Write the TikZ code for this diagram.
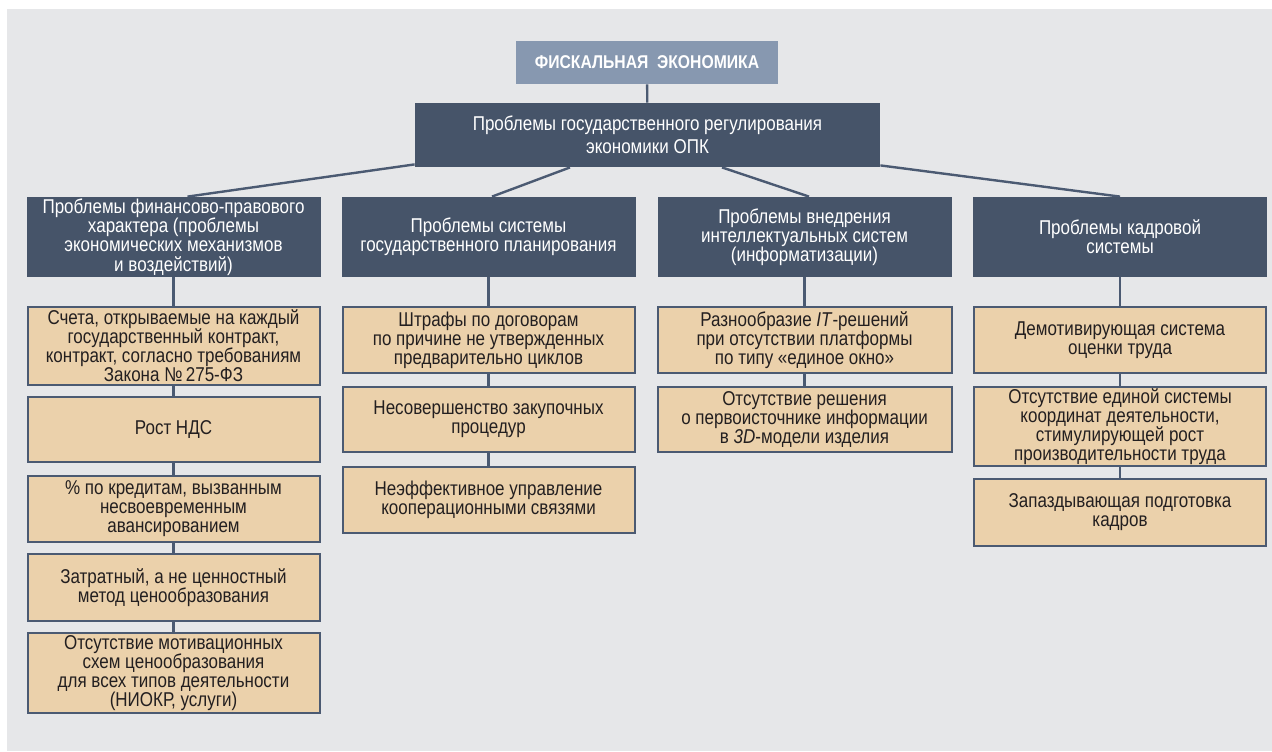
\documentclass[tikz,border=0pt]{standalone}
\usepackage{fontspec}
\setmainfont{Liberation Sans}[FakeStretch=0.85]
\usetikzlibrary{calc,backgrounds}
\definecolor{bgc}{HTML}{E6E7E9}
\definecolor{topc}{HTML}{8798B0}
\definecolor{darkc}{HTML}{465469}
\definecolor{tanc}{HTML}{EBD1AB}
\definecolor{borderc}{HTML}{4B5A72}
\definecolor{txtc}{HTML}{231F20}
\tikzset{
  topbox/.style={fill=topc, text=white, inner sep=0pt, minimum width=131pt, minimum height=21.5pt,
    font=\bfseries\fontsize{9.25pt}{10pt}\selectfont},
  mainbox/.style={fill=darkc, text=white, inner sep=0pt, minimum width=232.5pt, minimum height=32pt,
    align=center, font=\fontsize{10pt}{11.5pt}\selectfont},
  headbox/.style={fill=darkc, text=white, inner sep=0pt, minimum width=147pt, minimum height=40pt,
    align=center, font=\fontsize{10pt}{9.6pt}\selectfont},
  itembox/.style={fill=tanc, draw=borderc, line width=1pt, text=txtc, inner sep=0pt,
    minimum width=146pt, align=center, font=\fontsize{10pt}{9.5pt}\selectfont},
  conn/.style={draw=borderc, line width=1.2pt}
}
\begin{document}
\begin{tikzpicture}[x=0.5pt,y=-0.5pt]
\useasboundingbox (0,0) rectangle (1272,751);

\node[topbox] (top) at (647,62.5) {ФИСКАЛЬНАЯ\ \ ЭКОНОМИКА};
\node[mainbox] (L) at (647.5,135) {Проблемы государственного регулирования\\экономики ОПК};

\node[headbox] (h1) at (173.5,237) {\raisebox{0pt}{}Проблемы финансово-правового\\характера (проблемы\\экономических механизмов\\и воздействий)};
\node[headbox] (h2) at (488.5,237) {Проблемы системы\\государственного планирования};
\node[headbox] (h3) at (804.5,237) {Проблемы внедрения\\интеллектуальных систем\\(информатизации)};
\node[headbox] (h4) at (1120,237) {Проблемы кадровой\\системы};

% column 1
\node[itembox, minimum height=39pt] (a1) at (173.5,346) {Счета, открываемые на каждый\\государственный контракт,\\контракт, согласно требованиям\\Закона №\,275-ФЗ};
\node[itembox, minimum height=32.5pt] (a2) at (173.5,429.5) {Рост НДС};
\node[itembox, minimum height=33pt] (a3) at (173.5,509) {\% по кредитам, вызванным\\несвоевременным\\авансированием};
\node[itembox, minimum height=33.5pt] (a4) at (173.5,587.5) {Затратный, а не ценностный\\метод ценообразования};
\node[itembox, minimum height=40pt] (a5) at (173.5,673) {Отсутствие мотивационных\\схем ценообразования\\для всех типов деятельности\\(НИОКР, услуги)};

% column 2
\node[itembox, minimum height=33pt] (b1) at (488.5,340) {Штрафы по договорам\\по причине не утвержденных\\предварительно циклов};
\node[itembox, minimum height=32.5pt] (b2) at (488.5,419.5) {Несовершенство закупочных\\процедур};
\node[itembox, minimum height=33pt] (b3) at (488.5,500) {Неэффективное управление\\кооперационными связями};

% column 3
\node[itembox, minimum height=33pt, minimum width=147pt] (c1) at (804.5,340) {Разнообразие \textit{IT}-решений\\при отсутствии платформы\\по типу «единое окно»};
\node[itembox, minimum height=32.5pt, minimum width=147pt] (c2) at (804.5,419.5) {Отсутствие решения\\о первоисточнике информации\\в \textit{3D}-модели изделия};

% column 4
\node[itembox, minimum height=33pt] (d1) at (1120,340) {Демотивирующая система\\оценки труда};
\node[itembox, minimum height=39.5pt] (d2) at (1120,426.5) {Отсутствие единой системы\\координат деятельности,\\стимулирующей рост\\производительности труда};
\node[itembox, minimum height=33.5pt] (d3) at (1120,512.5) {Запаздывающая подготовка\\кадров};

\begin{scope}[on background layer]
\fill[white] (0,0) rectangle (1272,751);
\fill[bgc] (7,9) rectangle (1272,751);
\draw[conn] (top) -- (L);
\draw[conn] ($(L.south west)+(0,-3)$) -- ($(h1.north)+(14,0)$);
\draw[conn] ($(L.south)+(-77.5,0)$) -- ($(h2.north)+(3.5,0)$);
\draw[conn] ($(L.south)+(74.5,0)$) -- ($(h3.north)+(4.5,0)$);
\draw[conn] ($(L.south east)+(0,-2)$) -- (h4.north);
\draw[conn] (h1) -- (a1) -- (a2) -- (a3) -- (a4) -- (a5);
\draw[conn] (h2) -- (b1) -- (b2) -- (b3);
\draw[conn] (h3) -- (c1) -- (c2);
\draw[conn] (h4) -- (d1) -- (d2) -- (d3);
\end{scope}
\end{tikzpicture}
\end{document}
